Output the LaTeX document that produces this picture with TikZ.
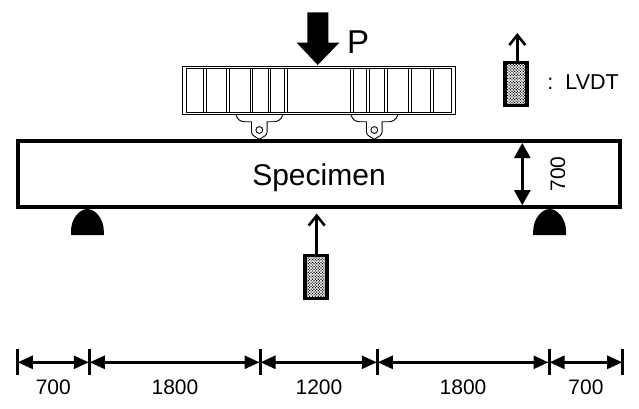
\documentclass[tikz,border=0pt]{standalone}
\usepackage{fontspec}
\setmainfont{Liberation Sans}
\usetikzlibrary{arrows.meta,patterns.meta}
\tikzset{
  beamline/.style={draw=black,line width=4pt,fill=white,inner sep=0pt,outer sep=0pt,rectangle},
  sensor/.style={draw=black,line width=3.6pt,pattern={Dots[radius=0.8pt,distance=2pt,angle=45]},inner sep=0pt,outer sep=0pt,rectangle,minimum width=22pt,minimum height=43pt},
  sensorarrow/.style={line width=2.6pt,-{Straight Barb[length=10pt,width=16pt,line width=2.6pt]}},
  dimline/.style={line width=2.7pt,{Triangle[length=15pt,width=13pt]}-{Triangle[length=15pt,width=13pt]},shorten <=0.5pt,shorten >=0.5pt},
  tickmark/.style={line width=3pt},
  thin frame/.style={draw=black,line width=1pt},
  dimtext/.style={font=\fontsize{21}{24}\selectfont,inner sep=0pt},
  dome/.pic={\fill[black] (-16.4,13) -- (-16.4,9) .. controls (-16.4,-3) and (-8,-13) .. (0,-13)
     .. controls (8,-13) and (16.4,-3) .. (16.4,9) -- (16.4,13) -- cycle;},
  hanger/.pic={
    \draw[line width=0.9pt,line join=round] (-23.3,-15.3) .. controls (-22,-10) and (-18,-8.3) .. (-15,-8.3) -- (-7.8,-8.3) -- (-7.8,2)
      .. controls (-7.8,6) and (-3,7) .. (0,9.3) .. controls (3,7) and (7.8,6) .. (7.8,2) -- (7.8,-8.3) -- (15,-8.3)
      .. controls (18,-8.3) and (22,-10) .. (23.7,-15.3);
    \draw[line width=0.9pt] (0,0) circle (3.4pt);},
}
\begin{document}
\begin{tikzpicture}[x=1pt,y=-1pt]
\useasboundingbox[fill=white] (0,0) rectangle (639,408);

% loading beam
\node[thin frame,fill=white,inner sep=0pt,outer sep=0pt,minimum width=273pt,minimum height=48pt] (loadbeam) at (319,90.5) {};
\draw[thin frame] (186.5,68.5) rectangle (451.5,112.5);
\foreach \a/\b in {203.5/206.5,226.5/229.5,250.5/252.5,268.5/270.5,284.5/287.5,350.5/353.5,366.5/369.5,384.5/387.5,408.5/411.5,430.5/433.5}{
  \draw[thin frame] (\a,68.5) -- (\a,112.5);
  \draw[thin frame] (\b,68.5) -- (\b,112.5);
}
\pic at (259.3,130) {hanger};
\pic at (374.3,130) {hanger};
\draw[line width=1.1pt] (244,114.6) -- (276,114.6);
\draw[line width=1.1pt] (359,114.6) -- (391,114.6);

% load arrow
\fill[black] (307.3,12.3) -- (328.3,12.3) -- (328.3,42.7) -- (339.3,42.7) -- (317.7,65) -- (296.7,42.7) -- (307.3,42.7) -- cycle;
\node[font=\fontsize{33}{36}\selectfont,inner sep=0pt] (pload) at (358,42) {P};

% specimen
\node[beamline,minimum width=602pt,minimum height=66.5pt] (spec) at (318.5,174.2) {};
\node[font=\fontsize{30}{34}\selectfont,inner sep=0pt,anchor=base] (spectext) at (319,185) {Specimen};
\pic at (87.4,222) {dome};
\pic at (549.6,222) {dome};

% height dimension
\coordinate (htop) at (522.3,143);
\coordinate (hbot) at (522.3,205.2);
\draw[line width=2.4pt,{Triangle[length=15pt,width=16pt]}-{Triangle[length=15pt,width=16pt]}] (htop) -- (hbot);
\node[dimtext,rotate=90] (hlabel) at (558,174) {700};

% LVDTs
\node[sensor] (lvdta) at (516,84) {};
\coordinate (lvdtatip) at (517.3,33);
\draw[sensorarrow] (lvdta.north -| lvdtatip) -- (lvdtatip);
\node[font=\fontsize{21.5}{24}\selectfont,inner sep=0pt,anchor=east] (legend) at (619,82) {:\hspace{12pt}LVDT};

\node[sensor] (lvdtb) at (316,277) {};
\coordinate (lvdtbtip) at (316.7,213.5);
\draw[sensorarrow] (lvdtb.north -| lvdtbtip) -- (lvdtbtip);

% bottom dimensions
\foreach \n/\x in {0/17.3,1/89.3,2/260,3/377.3,4/549,5/622.7}{
  \coordinate (u\n) at (\x,349);
  \coordinate (l\n) at (\x,374.5);
  \coordinate (m\n) at (\x,362.3);
  \draw[tickmark] (u\n) -- (l\n);
}
\foreach \a/\b in {0/1,1/2,2/3,3/4,4/5}{
  \draw[dimline] (m\a) -- (m\b);
}
\node[dimtext] (d1) at (53.3,387) {700};
\node[dimtext] (d2) at (175,387) {1800};
\node[dimtext] (d3) at (319,387) {1200};
\node[dimtext] (d4) at (463,387) {1800};
\node[dimtext] (d5) at (586,387) {700};
\end{tikzpicture}
\end{document}
